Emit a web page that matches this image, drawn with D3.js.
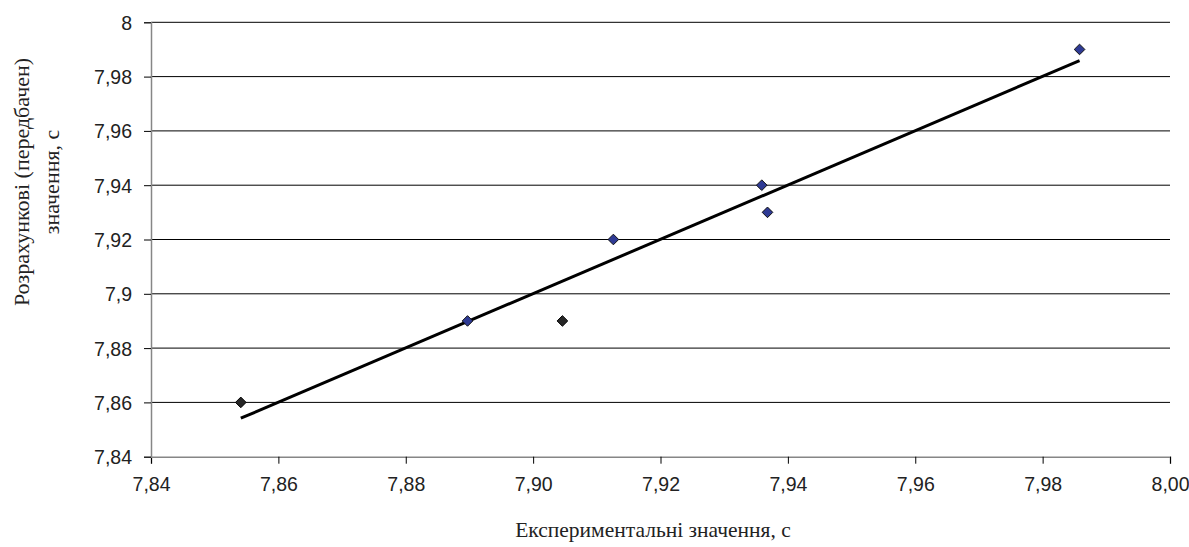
<!DOCTYPE html>
<html><head><meta charset="utf-8">
<script src="https://cdn.jsdelivr.net/npm/d3@7"></script>
<style>body{margin:0;background:#fff}svg{display:block}</style>
</head><body>
<script>
const xTickValues = [7.84, 7.86, 7.88, 7.90, 7.92, 7.94, 7.96, 7.98, 8.00];
const yTickValues = [7.84, 7.86, 7.88, 7.90, 7.92, 7.94, 7.96, 7.98, 8.00];
const darkX = [7.8541, 7.9046];
const darkY = [7.86, 7.89];
const blueX = [7.8897, 7.9126, 7.9359, 7.9368, 7.9858];
const blueY = [7.89, 7.92, 7.94, 7.93, 7.99];
const xTitle = "Експериментальні значення, с";
const yTitleLines = ["Розрахункові (передбачен)", "значення, с"];

const W = 1189, H = 547;
const m = {left: 151, right: 1170, top: 22.3, bottom: 456.7};
const svg = d3.select("body").append("svg").attr("width", W).attr("height", H);

const x = d3.scaleLinear().domain([7.84, 8.00]).range([m.left, m.right]);
const y = d3.scaleLinear().domain([7.84, 8.00]).range([m.bottom, m.top]);

// gridlines
svg.append("g").selectAll("line").data(yTickValues.slice(1)).join("line")
  .attr("x1", m.left).attr("x2", m.right)
  .attr("y1", d => y(d)).attr("y2", d => y(d))
  .attr("stroke", "#000").attr("stroke-width", 1);

// axes
const fmtY = d => String(+d.toFixed(2)).replace(".", ",");
const fmtX = d => d.toFixed(2).replace(".", ",");
const gx = svg.append("g").attr("transform", `translate(0,${m.bottom})`)
  .call(d3.axisBottom(x).tickValues(xTickValues).tickFormat(fmtX).tickSize(7).tickPadding(13));
const gy = svg.append("g").attr("transform", `translate(${m.left},0)`)
  .call(d3.axisLeft(y).tickValues(yTickValues).tickFormat(fmtY).tickSize(7).tickPadding(12));
[gx, gy].forEach(g => {
  g.select(".domain").attr("stroke", "#868686").attr("stroke-width", 1.5);
  g.selectAll(".tick line").attr("stroke", "#000");
  g.selectAll("text").attr("font-family", "Liberation Sans, Arial, sans-serif")
    .attr("font-size", 19.5).attr("fill", "#222");
});
gy.selectAll("text").attr("dy", "0.36em");

// trend line (least squares)
const allX = darkX.concat(blueX), allY = darkY.concat(blueY);
const mx = d3.mean(allX), my = d3.mean(allY);
const slope = d3.sum(allX, (v, i) => (v - mx) * (allY[i] - my)) / d3.sum(allX, v => (v - mx) ** 2);
const icpt = my - slope * mx;
const [x0, x1] = d3.extent(allX);
svg.append("line")
  .attr("x1", x(x0)).attr("y1", y(icpt + slope * x0))
  .attr("x2", x(x1)).attr("y2", y(icpt + slope * x1))
  .attr("stroke", "#000").attr("stroke-width", 3);

// markers
const diamond = d3.symbol().type(d3.symbolDiamond2).size(72);
svg.append("g").selectAll("path").data(blueX.map((v, i) => [v, blueY[i]])).join("path")
  .attr("d", diamond).attr("transform", d => `translate(${x(d[0])},${y(d[1])})`)
  .attr("fill", "#2e3a94").attr("stroke", "#111").attr("stroke-width", 1);
svg.append("g").selectAll("path").data(darkX.map((v, i) => [v, darkY[i]])).join("path")
  .attr("d", diamond).attr("transform", d => `translate(${x(d[0])},${y(d[1])})`)
  .attr("fill", "#262626").attr("stroke", "#000").attr("stroke-width", 1);

// titles
svg.append("text").attr("x", 653).attr("y", 537)
  .attr("text-anchor", "middle").attr("font-family", "Liberation Serif, Times New Roman, serif")
  .attr("font-size", 21.5).attr("fill", "#222").text(xTitle);
const yt = svg.append("text").attr("transform", "translate(0,182) rotate(-90)")
  .attr("text-anchor", "middle").attr("font-family", "Liberation Serif, Times New Roman, serif")
  .attr("font-size", 22).attr("fill", "#222");
yTitleLines.forEach((t, i) => yt.append("tspan").attr("x", 0).attr("y", 29 + i * 30).text(t));
</script>
</body></html>
